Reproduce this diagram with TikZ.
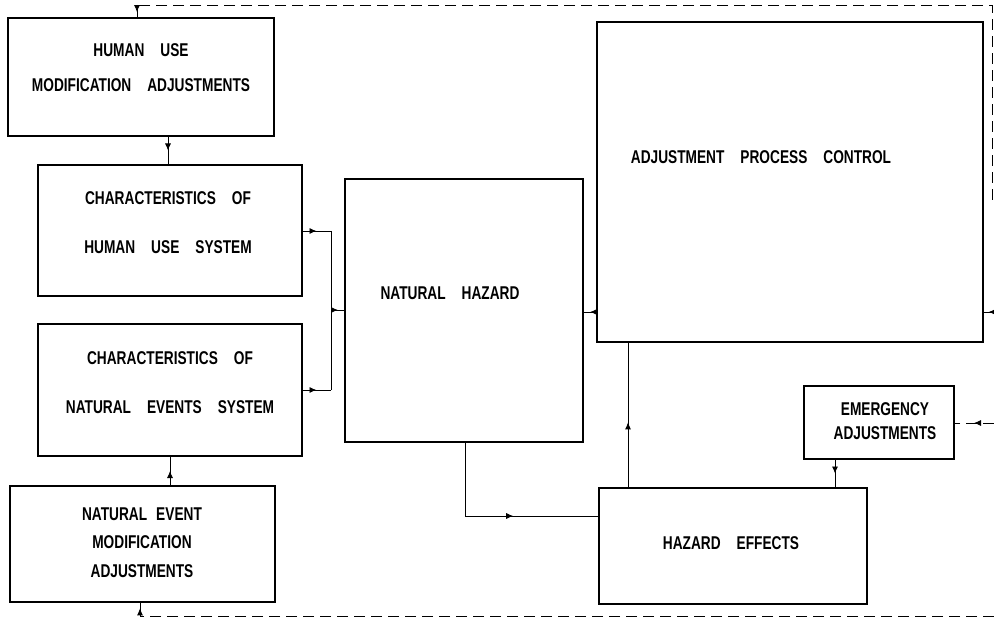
\documentclass[tikz,border=0pt]{standalone}
\usepackage{fontspec}
\setmainfont{Liberation Sans}[FakeStretch=0.74]
\usetikzlibrary{arrows.meta,decorations.markings}
\newcommand\wsp{\hspace{16pt}}
\newcommand\nsp{\hspace{9pt}}
\begin{document}
\begin{tikzpicture}[x=1pt,y=-1pt,
  box/.style={draw, line width=1.8pt, rectangle, inner sep=0pt},
  lbl/.style={inner sep=0pt, align=center, font=\fontsize{18.5}{#1}\selectfont\bfseries},
  lbl/.default=20,
  conn/.style={draw, line width=0.9pt},
  dconn/.style={draw, line width=0.9pt, dash pattern=on 11pt off 6pt},
  amark/.style={postaction={decorate}, decoration={markings,
     mark=at position #1 with {\arrow{Latex[length=7pt,width=6pt]}}}},
  amark/.default=0.5]
\useasboundingbox (0,0) rectangle (994,620);

% boxes
\node[box, minimum width=266pt, minimum height=118pt] (hu)  at (141,77) {};
\node[box, minimum width=264pt, minimum height=131pt] (chu) at (170,230.5) {};
\node[box, minimum width=264pt, minimum height=132pt] (cne) at (170,390) {};
\node[box, minimum width=265pt, minimum height=116pt] (nem) at (142.5,544) {};
\node[box, minimum width=238pt, minimum height=263pt] (nh)  at (464,310.5) {};
\node[box, minimum width=386pt, minimum height=320pt] (apc) at (790,182) {};
\node[box, minimum width=150pt, minimum height=73pt]  (ea)  at (879,422.5) {};
\node[box, minimum width=268pt, minimum height=116pt] (he)  at (733,546) {};

% labels
\node[lbl=35] (thu) at (141,67.5) {HUMAN\wsp USE\\MODIFICATION\wsp ADJUSTMENTS};
\node[lbl=49] (tchu) at (168,223) {CHARACTERISTICS\wsp OF\\HUMAN\wsp USE\wsp SYSTEM};
\node[lbl=49] (tcne) at (170,382.5) {CHARACTERISTICS\wsp OF\\NATURAL\wsp EVENTS\wsp SYSTEM};
\node[lbl=28.5] (tnem) at (142,542.5) {NATURAL\nsp EVENT\\MODIFICATION\\ADJUSTMENTS};
\node[lbl] (tnh) at (450,293) {NATURAL\wsp HAZARD};
\node[lbl] (tapc) at (761,157) {ADJUSTMENT\wsp PROCESS\wsp CONTROL};
\node[lbl] (the) at (731,543) {HAZARD\wsp EFFECTS};
\node[lbl=24] (tea) at (885,421) {EMERGENCY\\ADJUSTMENTS};

% coordinates
\coordinate (hub) at (168,136);
\coordinate (chut) at (168,165);
\coordinate (chue) at (302,231);
\coordinate (j1) at (331,231);
\coordinate (cnee) at (302,390);
\coordinate (j2) at (331,390);
\coordinate (jm) at (331,310);
\coordinate (nhw) at (345,310);
\coordinate (nemt) at (170,486);
\coordinate (cneb) at (170,456);
\coordinate (nhe) at (583,312);
\coordinate (apcw) at (597,312);
\coordinate (apce) at (983,312);
\coordinate (edge1) at (994,312);
\coordinate (eae) at (954,423);
\coordinate (edge2) at (994,423);
\coordinate (apcb) at (628,342);
\coordinate (het1) at (628,488);
\coordinate (nhb) at (465,442);
\coordinate (bend1) at (465,516);
\coordinate (hew) at (599,516);
\coordinate (eab) at (835,459);
\coordinate (het2) at (835,488);
\coordinate (hut) at (137,18);
\coordinate (tl) at (137,5);
\coordinate (tr) at (992,5);
\coordinate (trd) at (992,200);
\coordinate (nemb) at (140,602);
\coordinate (bl) at (140,616);
\coordinate (br) at (994,616);

% solid connectors
\path[conn, amark] (hub) -- (chut);
\path[conn, amark] (nemt) -- (cneb);
\path[conn, amark] (chue) -- (j1);
\path[conn, amark] (cnee) -- (j2);
\path[conn] (j1) -- (j2);
\path[conn, amark] (jm) -- (nhw);
\path[conn, amark] (apcw) -- (nhe);
\path[conn, amark] (edge1) -- (apce);
\path[conn, amark=0.45] (het1) -- (apcb);
\path[conn] (nhb) -- (bend1);
\path[conn, amark=0.36] (bend1) -- (hew);
\path[conn, amark] (eab) -- (het2);

% dashed connectors
\path[dconn, amark=0.5] (edge2) -- (eae);
\path[dconn] (trd) -- (tr) -- (tl);
\path[conn, amark=0.55] (tl) -- (hut);
\path[dconn] (br) -- (bl);
\path[conn, amark=0.55] (bl) -- (nemb);
\end{tikzpicture}
\end{document}
